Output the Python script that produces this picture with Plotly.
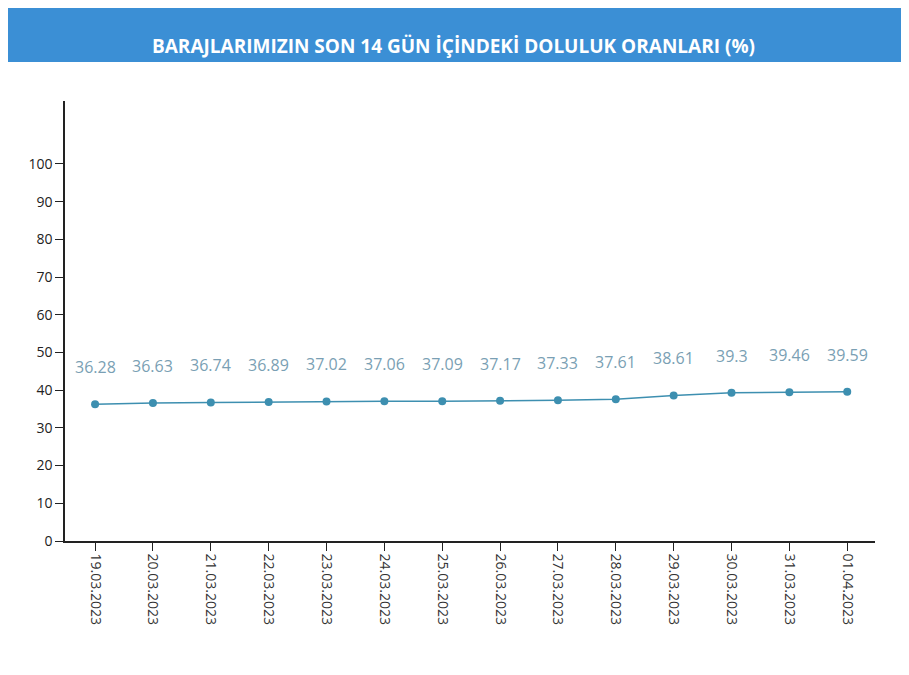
import plotly.graph_objects as go

dates = ["19.03.2023", "20.03.2023", "21.03.2023", "22.03.2023", "23.03.2023",
         "24.03.2023", "25.03.2023", "26.03.2023", "27.03.2023", "28.03.2023",
         "29.03.2023", "30.03.2023", "31.03.2023", "01.04.2023"]
values = [36.28, 36.63, 36.74, 36.89, 37.02, 37.06, 37.09, 37.17, 37.33, 37.61,
          38.61, 39.3, 39.46, 39.59]
y_ticks = [0, 10, 20, 30, 40, 50, 60, 70, 80, 90, 100]
title = "BARAJLARIMIZIN SON 14 GÜN İÇİNDEKİ DOLULUK ORANLARI (%)"

line_color = "#3d8fb0"
label_color = "#7a9fb4"

fig = go.Figure(go.Scatter(
    x=dates, y=values, mode="lines+markers",
    line=dict(color=line_color, width=1.5),
    marker=dict(color=line_color, size=8),
    hoverinfo="x+y",
))

for d, v in zip(dates, values):
    fig.add_annotation(x=d, y=v, text=f"{v:g}", showarrow=False, yshift=37,
                       font=dict(size=16, color=label_color))

# header band
fig.add_shape(type="rect", xref="paper", yref="paper",
              x0=-0.08, x1=1.06, y0=1.0886, y1=1.25,
              fillcolor="#3b8fd5", line_width=0, layer="below")
fig.add_annotation(xref="paper", yref="paper", x=0.48, y=1.159,
                   text=f"<b>{title}</b>", showarrow=False,
                   font=dict(size=19, color="white"))

fig.update_layout(
    width=909, height=675,
    margin=dict(l=57, r=42, t=93, b=142),
    paper_bgcolor="white", plot_bgcolor="white",
    font=dict(family="Open Sans, sans-serif", size=14, color="#222"),
    showlegend=False,
)
fig.update_xaxes(
    type="category", range=[-0.52, 13.48], tickangle=90,
    showline=True, linecolor="#222", linewidth=1.5,
    ticks="outside", ticklen=8, tickcolor="#222",
    showgrid=False, tickfont=dict(size=14, color="#333"),
)
fig.update_yaxes(
    range=[0, 116.7], tickvals=y_ticks,
    showline=True, linecolor="#222", linewidth=1.5,
    ticks="outside", ticklen=8, tickcolor="#222",
    showgrid=False, zeroline=False, tickfont=dict(size=14, color="#222"),
)

fig.write_html("out.html")
